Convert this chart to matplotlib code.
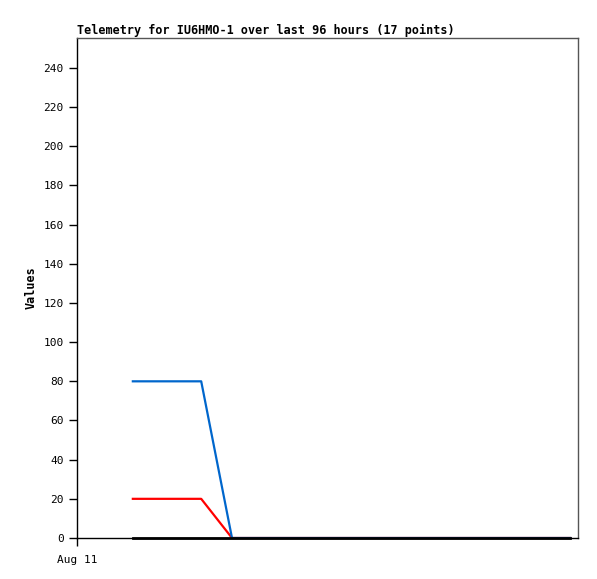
import matplotlib
matplotlib.use("Agg")
import matplotlib.pyplot as plt

# hours since Aug 11 00:00
hours = [10.7, 13.0, 15.5, 18.0, 21.0, 23.8, 29.7, 35.0, 40.0, 46.0, 52.0,
         58.0, 64.0, 70.0, 77.0, 85.0, 94.5]
blue = [80, 80, 80, 80, 80, 80, 0, 0, 0, 0, 0, 0, 0, 0, 0, 0, 0]
red = [20, 20, 20, 20, 20, 20, 0, 0, 0, 0, 0, 0, 0, 0, 0, 0, 0]
black = [0] * 17
yticks = [0, 20, 40, 60, 80, 100, 120, 140, 160, 180, 200, 220, 240]

plt.rcParams['font.family'] = 'DejaVu Sans Mono'
fig = plt.figure(figsize=(5.97, 5.79), dpi=100)
ax = fig.add_axes([77/597, 41/579, 501/597, 500/579])

ax.plot(hours, red, color="#ff0000", lw=1.6, zorder=3)
ax.plot(hours, blue, color="#0066cc", lw=1.6, zorder=4)
ax.plot(hours, black, color="black", lw=2, zorder=5, clip_on=False)

ax.set_xlim(0, 96)
ax.set_ylim(0, 255.3)
ax.set_yticks(yticks)
ax.set_xticks([0])
ax.set_xticklabels(["Aug 11"])
ax.tick_params(labelsize=8, length=6, width=1, direction="out")
ax.tick_params(axis="x", pad=6)
for s in ["top", "right"]:
    ax.spines[s].set_color("#555555")
    ax.spines[s].set_linewidth(1)
ax.spines["left"].set_linewidth(1)
ax.spines["bottom"].set_linewidth(1)

ax.set_ylabel("Values", fontsize=8.5, fontweight="bold")
ax.set_title("Telemetry for IU6HMO-1 over last 96 hours (17 points)",
             fontsize=8.45, fontweight="bold", loc="left", pad=3)

fig.savefig("out.png", dpi=100)
